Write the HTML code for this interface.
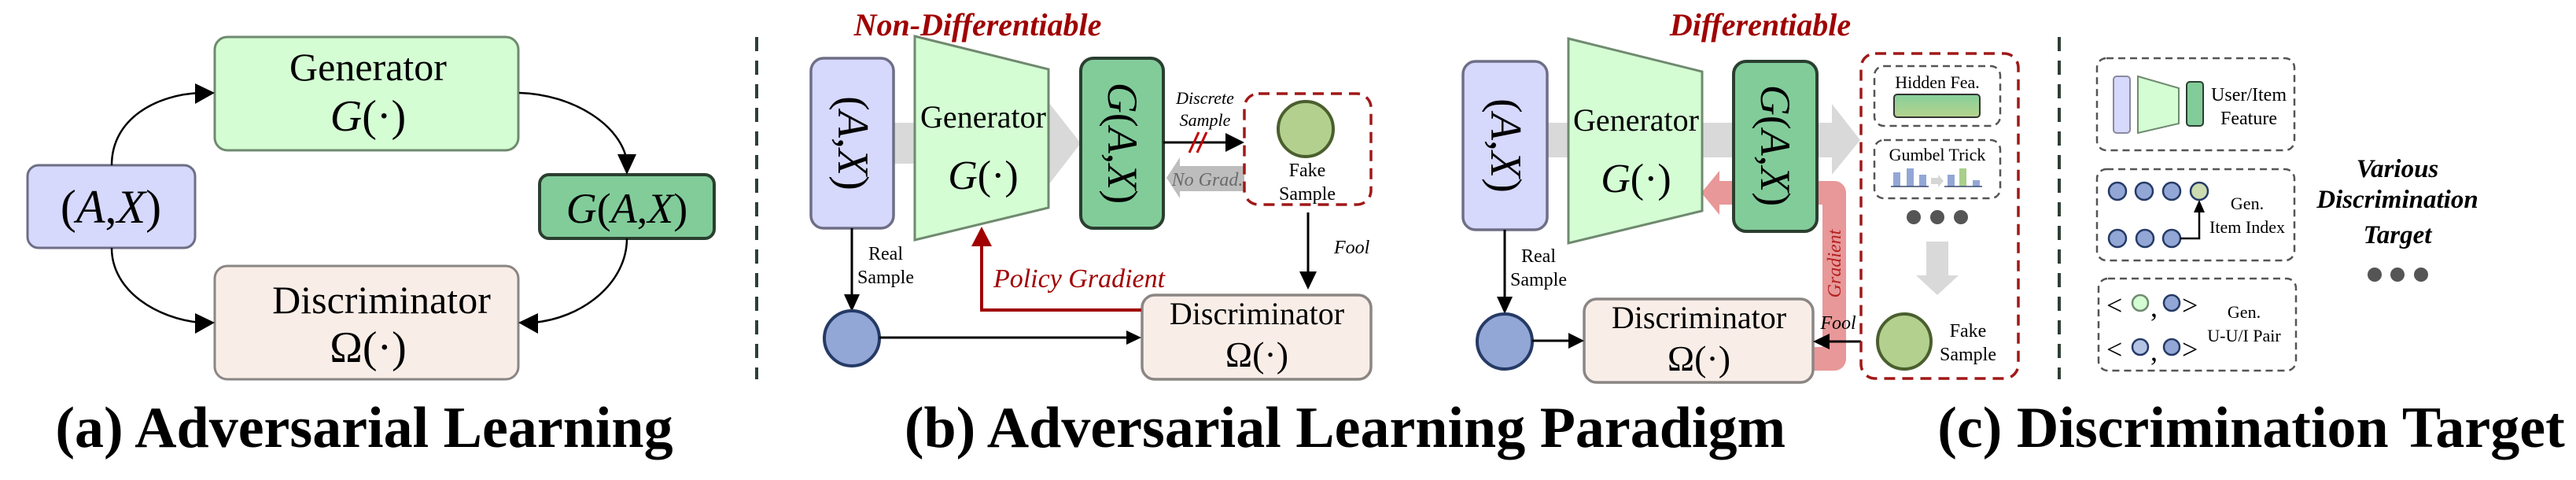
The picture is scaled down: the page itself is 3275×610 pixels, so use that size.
<!DOCTYPE html>
<html><head><meta charset="utf-8"><style>
html,body{margin:0;padding:0;background:#fff;}
svg{display:block;}
svg, svg text, svg tspan{font-family:"Liberation Serif","Times New Roman","DejaVu Serif",serif !important;}
</style></head><body>
<svg width="3275" height="610" viewBox="0 0 3275 610" xmlns="http://www.w3.org/2000/svg" font-family="'Liberation Serif', 'Times New Roman', serif">
<defs>
<linearGradient id="hg" x1="0" y1="0" x2="0" y2="1"><stop offset="0" stop-color="#86cf9c"/><stop offset="1" stop-color="#b6d38c"/></linearGradient>
</defs>
<g font-family="'Liberation Serif', 'Times New Roman', serif">
<!-- ===== (a) ===== -->
<g stroke-width="3">
<rect x="273" y="47" width="386" height="144" rx="16" fill="#d4fdd4" stroke="#6f8a6f"/>
<rect x="35" y="210" width="213" height="105" rx="14" fill="#d6d8fc" stroke="#6e6e86"/>
<rect x="686" y="222" width="222" height="81" rx="12" fill="#82cc9a" stroke="#2a3f30" stroke-width="4"/>
<rect x="273" y="338" width="386" height="144" rx="16" fill="#f9ede7" stroke="#8a8684"/>
</g>
<g fill="none" stroke="#000" stroke-width="2.5">
<path d="M142,210 C142,150 200,120 255,118"/>
<path d="M660,118 C730,120 790,160 797,205"/>
<path d="M142,315 C142,370 200,405 255,410"/>
<path d="M797,303 C797,360 740,405 677,410"/>
</g>
<g fill="#000">
<path d="M273,118 L248,106 L248,132 z"/>
<path d="M797,222 L785,196 L809,196 z"/>
<path d="M273,410 L248,398 L248,424 z"/>
<path d="M659,410 L684,398 L684,424 z"/>
</g>
<text x="468" y="102" font-size="50" text-anchor="middle">Generator</text>
<text x="468" y="166" font-size="56" text-anchor="middle"><tspan font-style="italic">G</tspan>(·)</text>
<text x="141" y="283" font-size="60" text-anchor="middle">(<tspan font-style="italic">A</tspan>,<tspan font-style="italic">X</tspan>)</text>
<text x="797" y="283" font-size="54" text-anchor="middle"><tspan font-style="italic">G</tspan>(<tspan font-style="italic">A</tspan>,<tspan font-style="italic">X</tspan>)</text>
<text x="485" y="398" font-size="50" text-anchor="middle">Discriminator</text>
<text x="468" y="460" font-size="56" text-anchor="middle">Ω(·)</text>
<text x="463" y="568" font-size="74" font-weight="bold" text-anchor="middle">(a) Adversarial Learning</text>

<line x1="962" y1="47" x2="962" y2="482" stroke="#2e3f36" stroke-width="4" stroke-dasharray="18,12"/>

<!-- ===== (b) left ===== -->
<path d="M1136,156 L1333,156 L1333,130 L1374,182 L1333,235 L1333,208 L1136,208 z" fill="#d9d9d9"/>
<rect x="1031" y="74" width="105" height="216" rx="16" fill="#d6d8fc" stroke="#6e6e86" stroke-width="3.5"/>
<polygon points="1163,46 1333,88 1333,264 1163,305" fill="#d4fdd4" stroke="#6f8a6f" stroke-width="3"/>
<rect x="1374" y="74" width="105" height="216" rx="16" fill="#82cc9a" stroke="#2a3f30" stroke-width="4"/>
<text transform="translate(1066,182) rotate(90)" font-size="56" text-anchor="middle">(<tspan font-style="italic">A</tspan>,<tspan font-style="italic">X</tspan>)</text>
<text transform="translate(1409,182) rotate(90)" font-size="54" text-anchor="middle"><tspan font-style="italic">G</tspan>(<tspan font-style="italic">A</tspan>,<tspan font-style="italic">X</tspan>)</text>
<text x="1250" y="162" font-size="40" text-anchor="middle">Generator</text>
<text x="1250" y="240" font-size="52" text-anchor="middle"><tspan font-style="italic">G</tspan>(·)</text>
<text x="1243" y="45" font-size="40" font-weight="bold" font-style="italic" fill="#a00000" text-anchor="middle">Non-Differentiable</text>
<text x="1532" y="132" font-size="22" font-style="italic" text-anchor="middle">Discrete</text>
<text x="1532" y="160" font-size="22" font-style="italic" text-anchor="middle">Sample</text>
<line x1="1479" y1="181" x2="1560" y2="181" stroke="#000" stroke-width="3"/>
<path d="M1582,181 L1558,169 L1558,193 z" fill="#000"/>
<g stroke="#c00000" stroke-width="3"><line x1="1512" y1="194" x2="1524" y2="168"/><line x1="1522" y1="194" x2="1534" y2="168"/></g>
<path d="M1582,211 L1500,211 L1500,200 L1483,226 L1500,252 L1500,243 L1582,243 z" fill="#bdbdbd"/>
<text x="1535" y="236" font-size="24" font-style="italic" fill="#6a6a6a" text-anchor="middle">No Grad.</text>
<rect x="1582" y="119" width="161" height="141" rx="18" fill="none" stroke="#a01818" stroke-width="3.5" stroke-dasharray="14,9"/>
<ellipse cx="1660" cy="164" rx="35" ry="35" fill="#b3d08f" stroke="#4a5f2e" stroke-width="4"/>
<text x="1662" y="224" font-size="24" text-anchor="middle">Fake</text>
<text x="1662" y="254" font-size="24" text-anchor="middle">Sample</text>
<line x1="1663" y1="270" x2="1663" y2="350" stroke="#000" stroke-width="3"/>
<path d="M1663,368 L1652,345 L1674,345 z" fill="#000"/>
<text x="1696" y="322" font-size="24" font-style="italic">Fool</text>
<rect x="1452" y="375" width="291" height="107" rx="16" fill="#f9ede7" stroke="#8a8684" stroke-width="3.5"/>
<text x="1598" y="412" font-size="40" text-anchor="middle">Discriminator</text>
<text x="1598" y="466" font-size="46" text-anchor="middle">Ω(·)</text>
<line x1="1083" y1="290" x2="1083" y2="375" stroke="#000" stroke-width="3"/>
<path d="M1083,396 L1073,374 L1093,374 z" fill="#000"/>
<text x="1126" y="330" font-size="24" text-anchor="middle">Real</text>
<text x="1126" y="360" font-size="24" text-anchor="middle">Sample</text>
<ellipse cx="1083" cy="430" rx="35" ry="35" fill="#93a7d6" stroke="#263a66" stroke-width="4"/>
<line x1="1118" y1="429" x2="1432" y2="429" stroke="#000" stroke-width="3"/>
<path d="M1451,429 L1432,420 L1432,438 z" fill="#000"/>
<path d="M1451,394 L1248,394 L1248,305" fill="none" stroke="#a00000" stroke-width="4"/>
<path d="M1248,288 L1235,313 L1261,313 z" fill="#a00000"/>
<text x="1372" y="365" font-size="34" font-style="italic" fill="#a00000" text-anchor="middle">Policy Gradient</text>

<!-- ===== (b) right ===== -->
<path d="M1967,156 L2329,156 L2329,132 L2365,178 L2329,222 L2329,200 L1967,200 z" fill="#d9d9d9"/>
<path d="M2305,456 L2332,456 L2332,245 L2185,245" fill="none" stroke="#e89898" stroke-width="30" stroke-linejoin="round"/>
<path d="M2163,245 L2186,217 L2186,273 z" fill="#e89898"/>
<rect x="1860" y="78" width="107" height="214" rx="16" fill="#d6d8fc" stroke="#6e6e86" stroke-width="3.5"/>
<polygon points="1994,49 2164,91 2164,268 1994,309" fill="#d4fdd4" stroke="#6f8a6f" stroke-width="3"/>
<rect x="2204" y="78" width="106" height="216" rx="16" fill="#82cc9a" stroke="#2a3f30" stroke-width="4"/>
<text transform="translate(1896,185) rotate(90)" font-size="56" text-anchor="middle">(<tspan font-style="italic">A</tspan>,<tspan font-style="italic">X</tspan>)</text>
<text transform="translate(2239,185) rotate(90)" font-size="54" text-anchor="middle"><tspan font-style="italic">G</tspan>(<tspan font-style="italic">A</tspan>,<tspan font-style="italic">X</tspan>)</text>
<text x="2080" y="166" font-size="40" text-anchor="middle">Generator</text>
<text x="2080" y="244" font-size="52" text-anchor="middle"><tspan font-style="italic">G</tspan>(·)</text>
<text x="2238" y="45" font-size="40" font-weight="bold" font-style="italic" fill="#a00000" text-anchor="middle">Differentiable</text>
<text transform="translate(2340,335) rotate(-90)" font-size="24" font-style="italic" fill="#b22020" text-anchor="middle">Gradient</text>
<rect x="2014" y="380" width="291" height="106" rx="16" fill="#f9ede7" stroke="#8a8684" stroke-width="3.5"/>
<text x="2160" y="417" font-size="40" text-anchor="middle">Discriminator</text>
<text x="2160" y="471" font-size="46" text-anchor="middle">Ω(·)</text>
<line x1="1913" y1="292" x2="1913" y2="378" stroke="#000" stroke-width="3"/>
<path d="M1913,399 L1903,377 L1923,377 z" fill="#000"/>
<text x="1956" y="333" font-size="24" text-anchor="middle">Real</text>
<text x="1956" y="363" font-size="24" text-anchor="middle">Sample</text>
<ellipse cx="1913" cy="434" rx="35" ry="35" fill="#93a7d6" stroke="#263a66" stroke-width="4"/>
<line x1="1948" y1="433" x2="1995" y2="433" stroke="#000" stroke-width="3"/>
<path d="M2014,433 L1994,423 L1994,443 z" fill="#000"/>
<line x1="2366" y1="434" x2="2325" y2="434" stroke="#000" stroke-width="3"/>
<path d="M2305,434 L2326,424 L2326,444 z" fill="#000"/>
<text x="2337" y="418" font-size="24" font-style="italic" text-anchor="middle">Fool</text>
<rect x="2366" y="68" width="200" height="413" rx="18" fill="none" stroke="#a01818" stroke-width="3.5" stroke-dasharray="14,9"/>
<rect x="2383" y="84" width="160" height="76" rx="12" fill="none" stroke="#555" stroke-width="2.5" stroke-dasharray="9,6"/>
<text x="2463" y="112" font-size="22" text-anchor="middle">Hidden Fea.</text>
<rect x="2408" y="120" width="109" height="29" rx="4" fill="url(#hg)" stroke="#333" stroke-width="2"/>
<rect x="2383" y="178" width="160" height="74" rx="12" fill="none" stroke="#555" stroke-width="2.5" stroke-dasharray="9,6"/>
<text x="2463" y="204" font-size="22" text-anchor="middle">Gumbel Trick</text>
<g fill="#93a7d6"><rect x="2407" y="219" width="9" height="18"/><rect x="2424" y="214" width="9" height="23"/><rect x="2440" y="222" width="9" height="15"/><rect x="2476" y="222" width="9" height="15"/><rect x="2508" y="229" width="9" height="8"/></g>
<rect x="2491" y="214" width="9" height="23" fill="#a9cf8a"/>
<path d="M2455,226 L2464,226 L2464,222 L2471,230 L2464,238 L2464,234 L2455,234 z" fill="#d6d6d6"/>
<g stroke="#3a4a70" stroke-width="1.5"><line x1="2404" y1="237" x2="2452" y2="237"/><line x1="2472" y1="237" x2="2520" y2="237"/></g>
<g fill="#555"><circle cx="2433" cy="276" r="9"/><circle cx="2463" cy="276" r="9"/><circle cx="2493" cy="276" r="9"/></g>
<path d="M2449,307 L2477,307 L2477,350 L2490,350 L2463,375 L2436,350 L2449,350 z" fill="#d9d9d9"/>
<ellipse cx="2421" cy="434" rx="34" ry="35" fill="#b3d08f" stroke="#4a5f2e" stroke-width="4"/>
<text x="2502" y="428" font-size="24" text-anchor="middle">Fake</text>
<text x="2502" y="458" font-size="24" text-anchor="middle">Sample</text>
<text x="1710" y="568" font-size="74" font-weight="bold" text-anchor="middle">(b) Adversarial Learning Paradigm</text>

<line x1="2618" y1="47" x2="2618" y2="482" stroke="#2e3f36" stroke-width="4" stroke-dasharray="18,12"/>

<!-- ===== (c) ===== -->
<rect x="2666" y="74" width="251" height="117" rx="12" fill="none" stroke="#555" stroke-width="2.5" stroke-dasharray="9,6"/>
<rect x="2687" y="97" width="21" height="72" rx="4" fill="#d6d8fc" stroke="#8a8aa0" stroke-width="2"/>
<polygon points="2718,97 2770,112 2770,157 2718,169" fill="#d4fdd4" stroke="#6f8a6f" stroke-width="2"/>
<rect x="2780" y="104" width="21" height="56" rx="4" fill="#82cc9a" stroke="#2a3f30" stroke-width="2"/>
<text x="2859" y="128" font-size="24" text-anchor="middle">User/Item</text>
<text x="2859" y="158" font-size="24" text-anchor="middle">Feature</text>

<rect x="2666" y="215" width="251" height="116" rx="12" fill="none" stroke="#555" stroke-width="2.5" stroke-dasharray="9,6"/>
<g fill="#93a7d6" stroke="#263a66" stroke-width="2.5">
<circle cx="2692" cy="243" r="11"/><circle cx="2726" cy="243" r="11"/><circle cx="2761" cy="243" r="11"/>
<circle cx="2692" cy="303" r="11"/><circle cx="2727" cy="303" r="11"/><circle cx="2761" cy="303" r="11"/>
</g>
<circle cx="2796" cy="243" r="11" fill="#ccdcb0" stroke="#263a66" stroke-width="2.5"/>
<path d="M2772,303 L2796,303 L2796,268" fill="none" stroke="#000" stroke-width="2.5"/>
<path d="M2796,254 L2789,270 L2803,270 z" fill="#000"/>
<text x="2857" y="266" font-size="22" text-anchor="middle">Gen.</text>
<text x="2857" y="296" font-size="22" text-anchor="middle">Item Index</text>

<rect x="2668" y="354" width="251" height="117" rx="12" fill="none" stroke="#555" stroke-width="2.5" stroke-dasharray="9,6"/>
<text x="2678" y="400" font-size="36">&lt;</text>
<circle cx="2721" cy="385" r="10" fill="#d4fdd4" stroke="#6f8a6f" stroke-width="2.5"/>
<text x="2734" y="402" font-size="36">,</text>
<circle cx="2761" cy="385" r="10" fill="#93a7d6" stroke="#263a66" stroke-width="2.5"/>
<text x="2774" y="400" font-size="36">&gt;</text>
<text x="2678" y="456" font-size="36">&lt;</text>
<circle cx="2721" cy="441" r="10" fill="#b4c4e4" stroke="#263a66" stroke-width="2.5"/>
<text x="2734" y="458" font-size="36">,</text>
<circle cx="2761" cy="441" r="10" fill="#93a7d6" stroke="#263a66" stroke-width="2.5"/>
<text x="2774" y="456" font-size="36">&gt;</text>
<text x="2853" y="404" font-size="22" text-anchor="middle">Gen.</text>
<text x="2853" y="434" font-size="22" text-anchor="middle">U-U/I Pair</text>

<g font-size="33" font-weight="bold" font-style="italic" text-anchor="middle">
<text x="3048" y="225">Various</text>
<text x="3048" y="264">Discrimination</text>
<text x="3048" y="309">Target</text>
</g>
<g fill="#555"><circle cx="3019" cy="349" r="9"/><circle cx="3048" cy="349" r="9"/><circle cx="3078" cy="349" r="9"/></g>
<text x="2862" y="568" font-size="74" font-weight="bold" text-anchor="middle">(c) Discrimination Target</text>
</g>
</svg>
</body></html>
